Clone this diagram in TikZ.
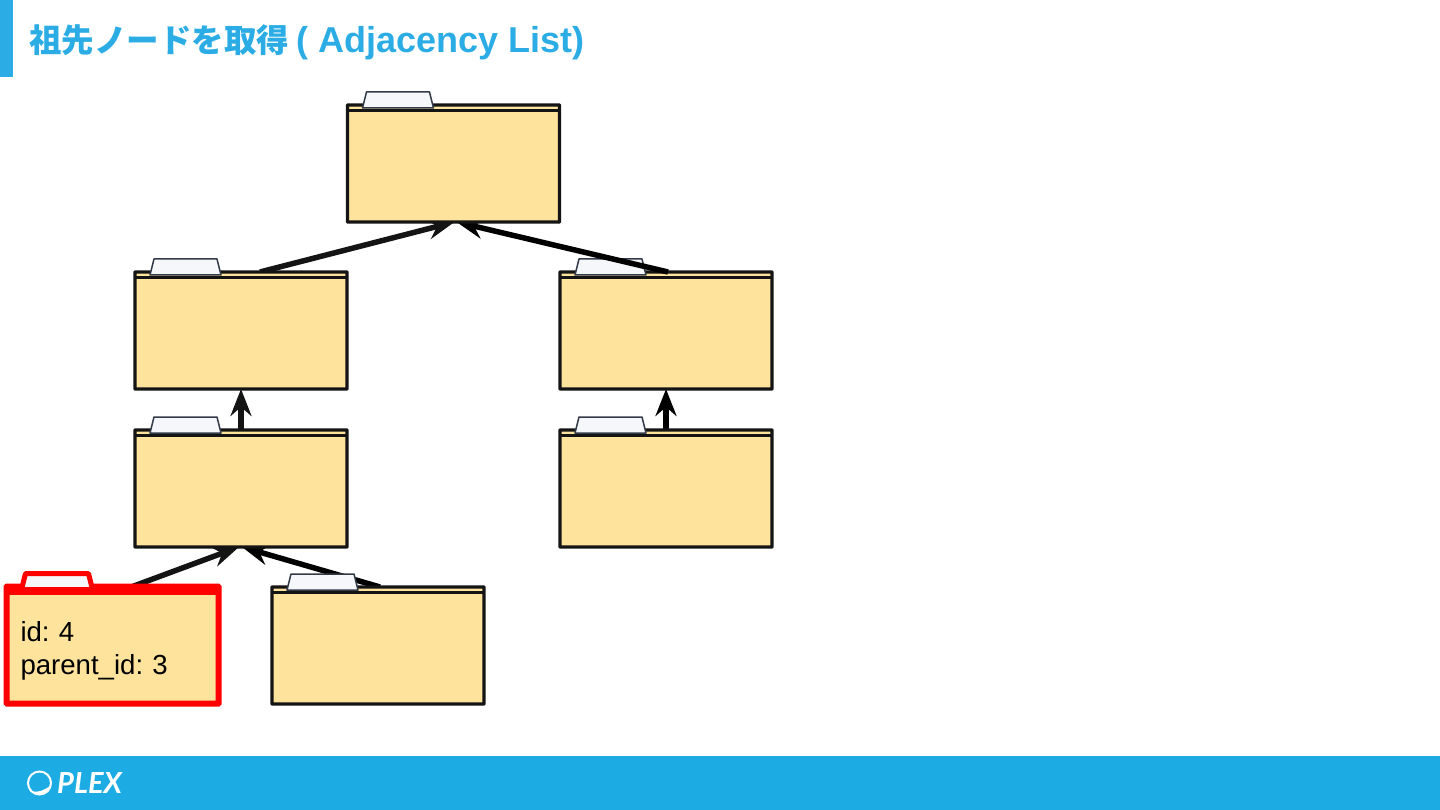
\documentclass[tikz,border=0pt]{standalone}
\usepackage{fontspec}
\setmainfont{Liberation Sans}
\newfontfamily\cjk{Noto Sans CJK JP}
\newfontfamily\logofont{Lato}
\usetikzlibrary{arrows.meta,backgrounds}
\pgfdeclarelayer{front}
\pgfsetlayers{background,main,front}
\definecolor{plexblue}{HTML}{1CABE3}
\definecolor{titleblue}{HTML}{2BACE4}
\definecolor{folderfill}{HTML}{FDE39B}
\definecolor{tabfill}{HTML}{F5F7FB}
\definecolor{tabline}{HTML}{333A48}
\definecolor{folderline}{HTML}{141414}
\tikzset{>={Stealth[length=27pt,width=21pt,inset=9pt]}}
\tikzset{
  foldertab/.style={draw=tabline,fill=tabfill,line width=1.5pt,line join=round},
  folderplain/.style={color=folderline,line width=3.4pt},
  folderhit/.style={color=red,line width=6pt,foldertab/.append style={draw=red,line width=5pt}},
  folderbox/.style={draw,fill=folderfill,rounded corners=0.5pt,minimum width=212pt,minimum height=117pt,
    anchor=north west,inner sep=0pt,outer sep=0pt,text=black,align=left,text width=184pt,
    font=\fontsize{27.6}{33}\selectfont},
  link/.style={->,line width=5.5pt},
}
% folder: style, name, top left corner, text
\newcommand{\folder}[4]{
  \begin{scope}[#1]
    \node[folderbox] (#2) at (#3) {#4};
    \draw ([yshift=-5.5pt]#2.north west) -- ([yshift=-5.5pt]#2.north east);
    \path[foldertab] ([shift={(15,3)}]#2.north west) -- ([shift={(19,-13)}]#2.north west)
      -- ([shift={(82,-13)}]#2.north west) -- ([shift={(86,3)}]#2.north west) -- cycle;
  \end{scope}
}
\begin{document}
\begin{tikzpicture}[x=1pt,y=-1pt]
\useasboundingbox (0,0) rectangle (1440,810);
% title and footer
\fill[titleblue] (0,0) rectangle (13,77);
\fill[plexblue] (0,756) rectangle (1440,810);
\node[anchor=west,inner sep=0pt,text=titleblue,font=\bfseries\fontsize{36}{40}\selectfont] (title) at (29,42.5)
  {{\cjk\fontsize{32.5}{40}\selectfont 祖先ノードを取得}\kern7.5pt( Adjacency List)};
% folders
\begin{pgfonlayer}{front}
\folder{folderplain}{root}{347.5,105}{}
\end{pgfonlayer}
\folder{folderplain}{left}{135,272}{}
\folder{folderplain}{right}{560,272}{}
\folder{folderplain}{parent}{135,430}{}
\folder{folderplain}{rightchild}{560,430}{}
\folder{folderhit}{leaf}{6.5,586.5}{\rule{0pt}{32pt}id:\ 4\\parent\_id:\ 3}
\folder{folderplain}{sibling}{272,587}{}
% links
\draw[link,color=black] ([xshift=2pt]right.north) -- ([xshift=3pt]root.south);
\begin{scope}[on background layer]
\draw[link,color=folderline] ([xshift=19pt]left.north) -- ([xshift=1pt]root.south);
\draw[link,color=folderline] (parent.north) -- (left.south);
\draw[link,color=black] (rightchild.north) -- (right.south);
\draw[link,color=folderline] ([xshift=20pt]leaf.north) -- ([xshift=-2pt]parent.south);
\draw[link,color=black] ([xshift=2pt]sibling.north) -- ([xshift=1pt]parent.south);
\end{scope}
% logo
\coordinate (logocentre) at (39.5,783);
\draw[white,line width=2pt] (logocentre) circle (11.5);
\fill[white] (51,785) .. controls (48,794) and (38,797) .. (30,791) .. controls (39,793) and (45,790) .. (51,785) -- cycle;
\node[anchor=west,inner sep=0pt,text=white,font=\logofont\bfseries\itshape\fontsize{29}{32}\selectfont] (logo) at (57,783) {PLEX};
\end{tikzpicture}
\end{document}
